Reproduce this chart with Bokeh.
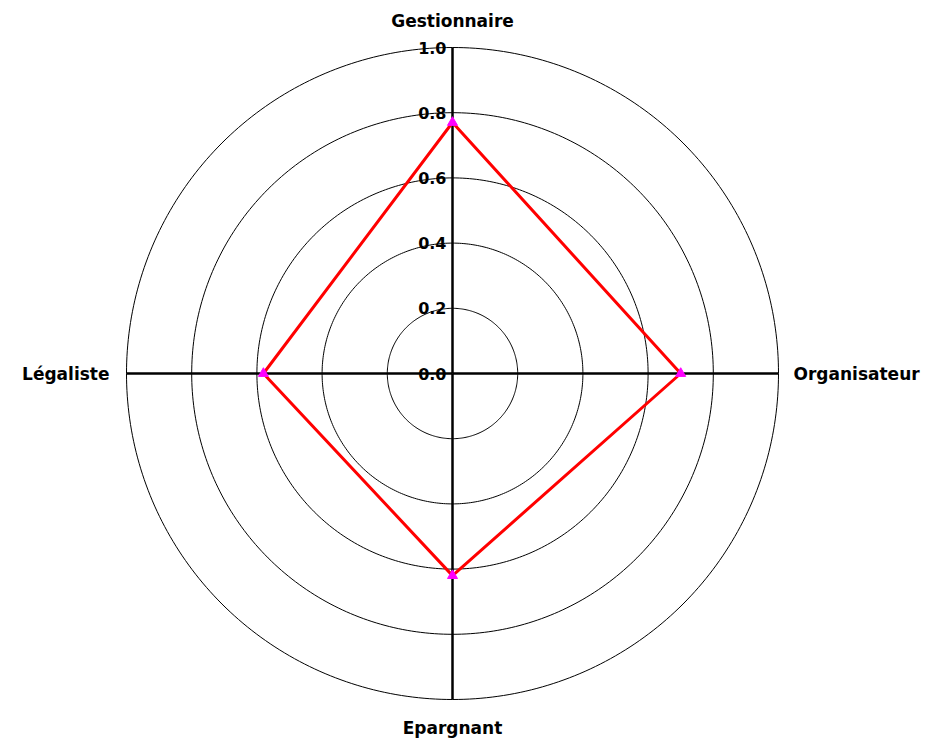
import numpy as np
from bokeh.plotting import figure
from bokeh.models import Range1d
from bokeh.core.properties import value
from bokeh.embed import file_html
from bokeh.resources import INLINE

categories = ["Gestionnaire", "Organisateur", "Epargnant", "Légaliste"]
values = [0.77, 0.70, 0.62, 0.58]
ring_levels = [0.2, 0.4, 0.6, 0.8, 1.0]
tick_labels = ["0.0", "0.2", "0.4", "0.6", "0.8", "1.0"]
tick_values = [0.0, 0.2, 0.4, 0.6, 0.8, 1.0]

W, H = 933, 738
cx, cy = 452, 373   # centre in frame pixels
S = 326.0           # pixels per unit

p = figure(width=W, height=H, output_backend="svg", toolbar_location=None,
           x_range=Range1d(-cx / S, (W - cx) / S),
           y_range=Range1d(-(H - cy) / S, cy / S),
           min_border=0, background_fill_color="white",
           border_fill_color="white")
p.axis.visible = False
p.grid.visible = False
p.outline_line_color = None

# rings
t = np.linspace(0, 2 * np.pi, 361)
for r in ring_levels:
    p.line(r * np.cos(t), r * np.sin(t), line_color="black", line_width=1)

# axes
angles = [np.pi / 2 - i * 2 * np.pi / len(categories) for i in range(len(categories))]
for a in angles:
    p.line([0, np.cos(a)], [0, np.sin(a)], line_color="black", line_width=2.5)

p.text(x=[-6 / S] * len(tick_values), y=tick_values, text=tick_labels,
       text_align="right", text_baseline="middle", text_font=value("DejaVu Sans"),
       text_font_style="bold", text_font_size="16px", text_color="black")

# category labels
lab_x = [0, 1.0 + 15 / S, 0, -1.0 - 17 / S]
lab_y = [1.0 + 27 / S, 0, -1.0 - 28 / S, 0]
aligns = ["center", "left", "center", "right"]
for cat, lx, ly, al in zip(categories, lab_x, lab_y, aligns):
    p.text(x=[lx], y=[ly], text=[cat], text_align=al, text_baseline="middle",
           text_font=value("DejaVu Sans"), text_font_style="bold",
           text_font_size="17px", text_color="black")

# data polygon
xs = [v * np.cos(a) for v, a in zip(values, angles)]
ys = [v * np.sin(a) for v, a in zip(values, angles)]
p.line(xs + [xs[0]], ys + [ys[0]], line_color="red", line_width=3)
p.scatter(xs, ys, marker="triangle", size=10, fill_color="magenta",
          line_color="magenta")

open("out.html", "w").write(file_html(p, INLINE))
